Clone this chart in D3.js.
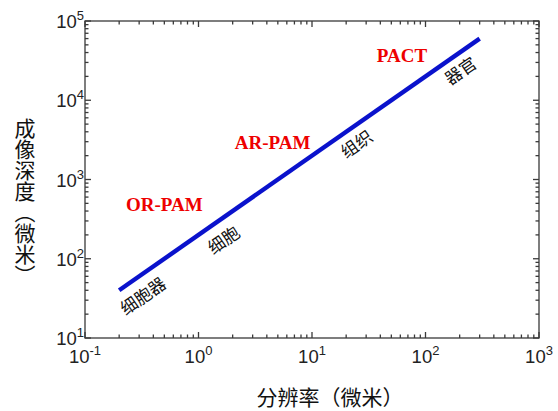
<!DOCTYPE html>
<html>
<head>
<meta charset="utf-8">
<script src="https://cdn.jsdelivr.net/npm/d3@7"></script>
<style>
  body { margin: 0; background: #fff; }
  svg { display: block; }
</style>
</head>
<body>
<div id="chart"></div>
<script>
// data
const resolution = [0.2, 300]          // 微米
const depth = [40, 60000]              // 微米
const xDecades = [-1, 0, 1, 2, 3]
const yDecades = [1, 2, 3, 4, 5]

const techLabels = ['OR-PAM', 'AR-PAM', 'PACT']
const techX = [0.5, 4.5, 62]
const techY = [400, 2400, 30000]

const scaleLabels = ['细胞器', '细胞', '组织', '器官']
const scaleX = [0.32, 1.64, 24.4, 201]
const scaleY = [35, 177, 2885, 24100]

const xTitle = '分辨率（微米）'
const yTitle = '成像深度（微米）'

const W = 558, H = 411
const margin = { left: 85, right: 19, top: 21, bottom: 73 }

const svg = d3.select('#chart').append('svg')
  .attr('width', W)
  .attr('height', H)

const x = d3.scaleLog().domain([0.1, 1000]).range([margin.left, W - margin.right])
const y = d3.scaleLog().domain([10, 100000]).range([H - margin.bottom, margin.top])

const axisColor = '#3a3a3a'
const tickFont = '"Liberation Sans", Arial, sans-serif'

// minor + major tick values
const xTicks = x.ticks()
const yTicks = y.ticks()
const isMajor = v => Math.abs(Math.log10(v) - Math.round(Math.log10(v))) < 1e-9

const gAxes = svg.append('g').attr('stroke', axisColor).attr('stroke-width', 1.3)

// frame
gAxes.append('rect')
  .attr('x', x.range()[0])
  .attr('y', y.range()[1])
  .attr('width', x.range()[1] - x.range()[0])
  .attr('height', y.range()[0] - y.range()[1])
  .attr('fill', 'none')

// inward ticks on all four sides
const x0 = x.range()[0], x1 = x.range()[1]
const y0 = y.range()[0], y1 = y.range()[1]
const len = v => isMajor(v) ? 6 : 3.5

gAxes.selectAll('.xb').data(xTicks).join('line')
  .attr('x1', d => x(d)).attr('x2', d => x(d))
  .attr('y1', y0).attr('y2', d => y0 - len(d))
gAxes.selectAll('.xt').data(xTicks).join('line')
  .attr('x1', d => x(d)).attr('x2', d => x(d))
  .attr('y1', y1).attr('y2', d => y1 + len(d))
gAxes.selectAll('.yl').data(yTicks).join('line')
  .attr('y1', d => y(d)).attr('y2', d => y(d))
  .attr('x1', x0).attr('x2', d => x0 + len(d))
gAxes.selectAll('.yr').data(yTicks).join('line')
  .attr('y1', d => y(d)).attr('y2', d => y(d))
  .attr('x1', x1).attr('x2', d => x1 - len(d))

// tick labels 10^n
function powLabel(sel, exp) {
  sel.append('tspan').text('10')
  sel.append('tspan').text(exp)
    .attr('font-size', 13)
    .attr('dy', -8)
}

svg.append('g').selectAll('text').data(xDecades).join('text')
  .attr('x', d => x(Math.pow(10, d)))
  .attr('y', y0 + 25)
  .attr('text-anchor', 'middle')
  .attr('font-family', tickFont)
  .attr('font-size', 18.5)
  .attr('fill', '#222')
  .each(function(d) { powLabel(d3.select(this), d) })

svg.append('g').selectAll('text').data(yDecades).join('text')
  .attr('x', x0 - 1)
  .attr('y', d => y(Math.pow(10, d)) + 7)
  .attr('text-anchor', 'end')
  .attr('font-family', tickFont)
  .attr('font-size', 18.5)
  .attr('fill', '#222')
  .each(function(d) { powLabel(d3.select(this), d) })

// main line
const pts = resolution.map((r, i) => [r, depth[i]])
svg.append('path')
  .datum(pts)
  .attr('d', d3.line().x(d => x(d[0])).y(d => y(d[1])))
  .attr('stroke', '#0a12cc')
  .attr('stroke-width', 4.4)
  .attr('fill', 'none')

// technique labels (red, bold serif)
svg.append('g').selectAll('text').data(techLabels).join('text')
  .attr('x', (d, i) => x(techX[i]))
  .attr('y', (d, i) => y(techY[i]))
  .attr('text-anchor', 'middle')
  .attr('font-family', '"Liberation Serif", "Times New Roman", serif')
  .attr('font-weight', 'bold')
  .attr('font-size', 19)
  .attr('fill', '#ee0000')
  .text(d => d)

// scale labels along the line
const angle = Math.atan2(y(depth[0]) - y(depth[1]), x(resolution[1]) - x(resolution[0])) * 180 / Math.PI
svg.append('g').selectAll('text').data(scaleLabels).join('text')
  .attr('transform', (d, i) => `translate(${x(scaleX[i])},${y(scaleY[i])}) rotate(${-angle})`)
  .attr('text-anchor', 'middle')
  .attr('dominant-baseline', 'central')
  .attr('font-family', '"Noto Sans CJK SC", sans-serif')
  .attr('font-size', 17)
  .attr('fill', '#111')
  .text(d => d)

// axis titles
svg.append('text')
  .attr('x', (x0 + x1) / 2 + 18)
  .attr('y', 405)
  .attr('text-anchor', 'middle')
  .attr('font-family', '"Noto Sans CJK SC", sans-serif')
  .attr('font-size', 21)
  .attr('fill', '#111')
  .text(xTitle)

svg.append('text')
  .attr('x', 25)
  .attr('y', 202)
  .attr('text-anchor', 'middle')
  .style('writing-mode', 'vertical-rl')
  .style('text-orientation', 'upright')
  .attr('font-family', '"Noto Sans CJK SC", sans-serif')
  .attr('font-size', 21)
  .attr('fill', '#111')
  .text(yTitle)
</script>
</body>
</html>
